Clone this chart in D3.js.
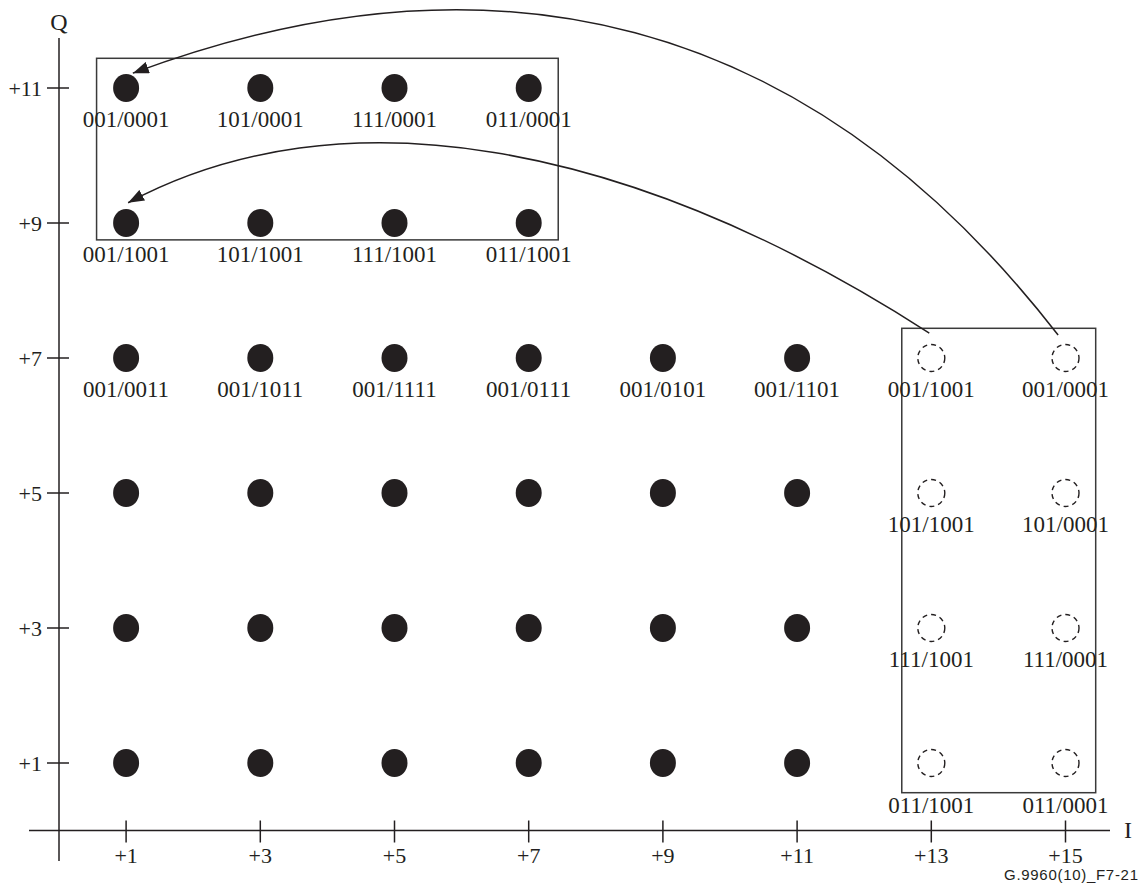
<!DOCTYPE html>
<html>
<head>
<meta charset="utf-8">
<script src="https://cdn.jsdelivr.net/npm/d3@7"></script>
<style>
  body { margin: 0; background: #fff; }
  #chart { width: 1143px; height: 892px; }
</style>
</head>
<body>
<div id="chart"></div>
<script>
// constellation levels
const iLevels = [1, 3, 5, 7, 9, 11, 13, 15];
const qLevels = [1, 3, 5, 7, 9, 11];

// filled points (I, label)
const row11 = [[1, "001/0001"], [3, "101/0001"], [5, "111/0001"], [7, "011/0001"]];
const row9 = [[1, "001/1001"], [3, "101/1001"], [5, "111/1001"], [7, "011/1001"]];
const row7 = [[1, "001/0011"], [3, "001/1011"], [5, "001/1111"], [7, "001/0111"], [9, "001/0101"], [11, "001/1101"]];
const plainRows = [5, 3, 1];
const plainCols = [1, 3, 5, 7, 9, 11];

// folded (dashed) points, Q = 7, 5, 3, 1
const foldQ = [7, 5, 3, 1];
const fold13 = ["001/1001", "101/1001", "111/1001", "011/1001"];
const fold15 = ["001/0001", "101/0001", "111/0001", "011/0001"];

// regions framed by a box, in I/Q units
const boxes = [
  { i: [0.56, 7.44], q: [8.75, 11.44] },
  { i: [12.56, 15.45], q: [0.56, 7.44] }
];

// arrows as cubic curves in I/Q units: start, control 1, control 2, end
const arrowOuter = [[14.89, 7.34], [11.15, 12.14], [6.41, 13.19], [1.10, 11.22]];
const arrowInner = [[12.97, 7.37], [8.45, 10.26], [4.17, 10.97], [1.03, 9.30]];

const width = 1143, height = 892;
const ink = "#231f20";
const serif = "'Liberation Serif', 'Times New Roman', serif";

const svg = d3.select("#chart").append("svg")
    .attr("width", width)
    .attr("height", height);

const x = d3.scaleLinear().domain([0, 16]).range([59, 59 + 16 * 67.1]);
const y = d3.scaleLinear().domain([0, 12]).range([830.5, 830.5 - 12 * 67.5]);

svg.append("defs").append("marker")
    .attr("id", "arrow")
    .attr("viewBox", "0 0 16 12")
    .attr("refX", 16)
    .attr("refY", 6)
    .attr("markerWidth", 16)
    .attr("markerHeight", 12)
    .attr("markerUnits", "userSpaceOnUse")
    .attr("orient", "auto")
    .append("path")
    .attr("d", "M0,0 L16,6 L0,12 Z")
    .attr("fill", ink);

// axes
const axes = svg.append("g").attr("stroke", ink).attr("stroke-width", 1.5);
axes.append("line").attr("x1", x(0)).attr("x2", x(0)).attr("y1", 38).attr("y2", 861);
axes.append("line").attr("x1", 29).attr("x2", 1110).attr("y1", y(0)).attr("y2", y(0));

axes.selectAll(".qtick").data(qLevels).enter().append("line")
    .attr("x1", x(0) - 12).attr("x2", x(0) + 10)
    .attr("y1", d => y(d)).attr("y2", d => y(d));
axes.selectAll(".itick").data(iLevels).enter().append("line")
    .attr("x1", d => x(d)).attr("x2", d => x(d))
    .attr("y1", y(0) - 10).attr("y2", y(0) + 12);

svg.selectAll(".qlabel").data(qLevels).enter().append("text")
    .attr("x", 42).attr("y", d => y(d) + 8)
    .attr("text-anchor", "end")
    .style("font-family", serif).style("font-size", "22px").attr("fill", ink)
    .text(d => "+" + d);
svg.selectAll(".ilabel").data(iLevels).enter().append("text")
    .attr("x", d => x(d)).attr("y", 863)
    .attr("text-anchor", "middle")
    .style("font-family", serif).style("font-size", "22px").attr("fill", ink)
    .text(d => "+" + d);

svg.append("text").attr("x", x(0)).attr("y", 30).attr("text-anchor", "middle")
    .style("font-family", serif).style("font-size", "24px").attr("fill", ink).text("Q");
svg.append("text").attr("x", 1128).attr("y", 838).attr("text-anchor", "middle")
    .style("font-family", serif).style("font-size", "24px").attr("fill", ink).text("I");

// boxes
svg.selectAll(".box").data(boxes).enter().append("rect")
    .attr("x", d => x(d.i[0])).attr("y", d => y(d.q[1]))
    .attr("width", d => x(d.i[1]) - x(d.i[0]))
    .attr("height", d => y(d.q[0]) - y(d.q[1]))
    .attr("fill", "none").attr("stroke", "#3a3a3a").attr("stroke-width", 1.5);

// build point list
const points = [];
row11.forEach(([i, l]) => points.push({ i: i, q: 11, label: l, dashed: false }));
row9.forEach(([i, l]) => points.push({ i: i, q: 9, label: l, dashed: false }));
row7.forEach(([i, l]) => points.push({ i: i, q: 7, label: l, dashed: false }));
plainRows.forEach(q => plainCols.forEach(i => points.push({ i: i, q: q, label: null, dashed: false })));
foldQ.forEach((q, k) => {
  points.push({ i: 13, q: q, label: fold13[k], dashed: true });
  points.push({ i: 15, q: q, label: fold15[k], dashed: true });
});

svg.selectAll(".dot").data(points.filter(d => !d.dashed)).enter().append("ellipse")
    .attr("cx", d => x(d.i)).attr("cy", d => y(d.q))
    .attr("rx", 13).attr("ry", 14)
    .attr("fill", ink);

svg.selectAll(".ghost").data(points.filter(d => d.dashed)).enter().append("circle")
    .attr("cx", d => x(d.i)).attr("cy", d => y(d.q))
    .attr("r", 13.5)
    .attr("fill", "none").attr("stroke", ink).attr("stroke-width", 1.4)
    .attr("stroke-dasharray", "5,4");

svg.selectAll(".plabel").data(points.filter(d => d.label)).enter().append("text")
    .attr("x", d => x(d.i))
    .attr("y", d => y(d.q) + (d.dashed && d.q === 1 ? 50 : 39))
    .attr("text-anchor", "middle")
    .style("font-family", serif).style("font-size", "23px").attr("fill", ink)
    .text(d => d.label);

// arrows
function curvePath(c) {
  const p = d3.path();
  p.moveTo(x(c[0][0]), y(c[0][1]));
  p.bezierCurveTo(x(c[1][0]), y(c[1][1]), x(c[2][0]), y(c[2][1]), x(c[3][0]), y(c[3][1]));
  return p.toString();
}
svg.selectAll(".arrow").data([arrowOuter, arrowInner]).enter().append("path")
    .attr("d", curvePath)
    .attr("fill", "none").attr("stroke", ink).attr("stroke-width", 1.5)
    .attr("marker-end", "url(#arrow)");

svg.append("text").attr("x", 1138).attr("y", 880).attr("text-anchor", "end")
    .style("font-family", "'Liberation Sans', Arial, sans-serif").style("font-size", "15px")
    .attr("textLength", 134).attr("fill", ink)
    .text("G.9960(10)_F7-21");
</script>
</body>
</html>
